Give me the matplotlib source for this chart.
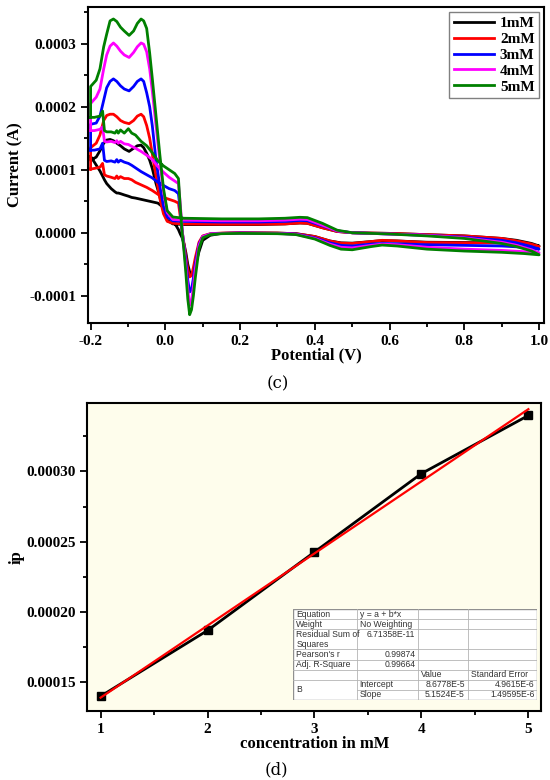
import numpy as np
import matplotlib
matplotlib.use('Agg')
import matplotlib.pyplot as plt
from matplotlib.ticker import MultipleLocator, FuncFormatter
from matplotlib.patches import Rectangle

plt.rcParams['font.family'] = ['Liberation Serif', 'DejaVu Serif']
plt.rcParams['font.weight'] = 'bold'

labels = ['1mM', '2mM', '3mM', '4mM', '5mM']
colors = ['black', '#ff0000', '#0000ff', '#ff00ff', '#008000']

# ---- (c) cyclic voltammograms, currents in units of 1e-4 A ----
# forward part, -0.2 V up to the shoulder
v_low = [-0.2, -0.19, -0.175, -0.168, -0.163, -0.157, -0.145, -0.135, -0.13, -0.126,
         -0.12, -0.11, -0.099, -0.09, -0.08, -0.065, -0.05, -0.035, -0.02, -0.005,
         0.01, 0.025, 0.035]
i_low = [
    [1.21, 1.12, 0.98, 0.90, 0.84, 0.78, 0.70, 0.65, 0.63, 0.63, 0.62, 0.60, 0.58, 0.56, 0.55, 0.53, 0.51, 0.49, 0.47, 0.40, 0.30, 0.15, 0.05],
    [1.01, 1.02, 1.04, 1.10, 0.92, 0.90, 0.88, 0.86, 0.90, 0.86, 0.89, 0.86, 0.86, 0.84, 0.80, 0.76, 0.72, 0.67, 0.61, 0.56, 0.53, 0.50, 0.47],
    [1.31, 1.31, 1.33, 1.42, 1.15, 1.13, 1.14, 1.12, 1.16, 1.12, 1.15, 1.12, 1.10, 1.07, 1.03, 0.97, 0.92, 0.87, 0.80, 0.75, 0.70, 0.67, 0.62],
    [1.62, 1.62, 1.64, 1.68, 1.45, 1.44, 1.45, 1.43, 1.46, 1.42, 1.45, 1.41, 1.40, 1.37, 1.34, 1.29, 1.23, 1.16, 1.05, 0.96, 0.88, 0.82, 0.78],
    [1.83, 1.83, 1.85, 1.93, 1.62, 1.60, 1.60, 1.58, 1.62, 1.58, 1.63, 1.58, 1.65, 1.58, 1.55, 1.45, 1.38, 1.27, 1.14, 1.06, 1.00, 0.94, 0.86],
]
# cathodic peak region
v_cath = [0.04, 0.045, 0.05, 0.055, 0.06, 0.065, 0.07, 0.075, 0.08, 0.09, 0.1, 0.12, 0.15, 0.2]
i_cath = [
    [-0.02, -0.08, -0.18, -0.32, -0.50, -0.62, -0.67, -0.62, -0.52, -0.30, -0.12, -0.04, -0.01, 0.0],
    [0.25, 0.02, -0.18, -0.38, -0.58, -0.70, -0.68, -0.55, -0.40, -0.15, -0.05, -0.015, -0.005, 0.0],
    [0.35, 0.03, -0.22, -0.45, -0.75, -0.94, -0.90, -0.72, -0.50, -0.18, -0.06, -0.02, -0.01, -0.005],
    [0.45, 0.05, -0.25, -0.55, -0.90, -1.15, -1.08, -0.85, -0.58, -0.20, -0.06, -0.02, -0.01, -0.005],
    [0.40, 0.0, -0.30, -0.65, -1.05, -1.30, -1.22, -1.00, -0.72, -0.25, -0.08, -0.03, -0.015, -0.01],
]
# lower branch on the right side
v_rlow = [0.3, 0.35, 0.4, 0.44, 0.47, 0.5, 0.55, 0.58, 0.62, 0.7, 0.8, 0.9, 0.96, 1.0]
i_rlow = [
    [-0.005, -0.015, -0.06, -0.13, -0.16, -0.165, -0.14, -0.125, -0.13, -0.15, -0.155, -0.16, -0.18, -0.21],
    [-0.005, -0.015, -0.06, -0.13, -0.165, -0.17, -0.14, -0.12, -0.13, -0.155, -0.16, -0.16, -0.18, -0.22],
    [-0.01, -0.02, -0.08, -0.16, -0.20, -0.21, -0.18, -0.17, -0.175, -0.19, -0.20, -0.21, -0.23, -0.26],
    [-0.01, -0.025, -0.09, -0.18, -0.23, -0.24, -0.20, -0.18, -0.19, -0.23, -0.26, -0.28, -0.30, -0.32],
    [-0.015, -0.03, -0.10, -0.20, -0.26, -0.27, -0.22, -0.195, -0.21, -0.26, -0.29, -0.31, -0.33, -0.35],
]
# reverse scan, upper branch on the right side
v_rup = [0.98, 0.94, 0.9, 0.8, 0.7, 0.6, 0.5, 0.46, 0.42, 0.38, 0.36, 0.32, 0.25, 0.15, 0.05]
i_rup = [
    [-0.17, -0.12, -0.09, -0.05, -0.03, -0.01, 0.0, 0.02, 0.08, 0.15, 0.155, 0.14, 0.13, 0.13, 0.13],
    [-0.18, -0.13, -0.09, -0.05, -0.03, -0.01, 0.0, 0.02, 0.08, 0.15, 0.155, 0.14, 0.135, 0.135, 0.14],
    [-0.22, -0.16, -0.12, -0.07, -0.04, -0.02, 0.0, 0.03, 0.11, 0.19, 0.195, 0.18, 0.17, 0.17, 0.18],
    [-0.27, -0.20, -0.15, -0.08, -0.04, -0.02, 0.0, 0.03, 0.12, 0.21, 0.215, 0.20, 0.19, 0.19, 0.20],
    [-0.29, -0.22, -0.17, -0.09, -0.05, -0.02, 0.0, 0.04, 0.15, 0.24, 0.245, 0.23, 0.22, 0.22, 0.23],
]
# anodic double peak, back to -0.2 V
v_peak = [0.02, 0.005, -0.005, -0.015, -0.025, -0.035, -0.042, -0.05, -0.058, -0.065,
          -0.075, -0.085, -0.097, -0.11, -0.12, -0.13, -0.139, -0.148, -0.157, -0.165,
          -0.175, -0.185, -0.2]
i_peak = [
    [0.14, 0.20, 0.35, 0.58, 0.78, 1.02, 1.15, 1.26, 1.35, 1.39, 1.38, 1.34, 1.29, 1.33, 1.38, 1.42, 1.46, 1.48, 1.47, 1.42, 1.30, 1.20, 1.15],
    [0.15, 0.18, 0.30, 0.55, 0.90, 1.25, 1.50, 1.70, 1.84, 1.88, 1.85, 1.78, 1.73, 1.75, 1.78, 1.84, 1.88, 1.88, 1.86, 1.78, 1.55, 1.42, 1.35],
    [0.19, 0.25, 0.42, 0.75, 1.15, 1.70, 2.00, 2.22, 2.40, 2.44, 2.40, 2.32, 2.25, 2.28, 2.33, 2.40, 2.44, 2.40, 2.30, 2.10, 1.85, 1.74, 1.72],
    [0.21, 0.32, 0.65, 1.15, 1.70, 2.25, 2.60, 2.87, 2.99, 3.01, 2.95, 2.86, 2.78, 2.82, 2.88, 2.96, 3.01, 2.96, 2.82, 2.60, 2.28, 2.15, 2.05],
    [0.25, 0.35, 0.70, 1.25, 1.85, 2.45, 2.85, 3.24, 3.36, 3.39, 3.32, 3.20, 3.13, 3.20, 3.26, 3.35, 3.39, 3.36, 3.15, 2.95, 2.60, 2.42, 2.32],
]

# ---- (d) calibration ----
conc = [1, 2, 3, 4, 5]
ip = [0.0001395, 0.0001865, 0.0002425, 0.0002985, 0.000340]
fit_x = [1, 5]
fit_y = [0.0001385, 0.0003445]

table_rows = [
    ("Equation", "y = a + b*x", "", ""),
    ("Weight", "No Weighting", "", ""),
    ("Residual Sum of\nSquares", "6.71358E-11", "", ""),
    ("Pearson's r", "0.99874", "", ""),
    ("Adj. R-Square", "0.99664", "", ""),
    ("", "", "Value", "Standard Error"),
    ("B", "Intercept", "8.6778E-5", "4.9615E-6"),
    ("", "Slope", "5.1524E-5", "1.49595E-6"),
]


def style_axes(ax):
    for s in ax.spines.values():
        s.set_linewidth(1.5)
    ax.tick_params(which='both', direction='out', top=False, right=False, width=1.3,
                   labelsize=11)
    ax.tick_params(which='major', length=5)
    ax.tick_params(which='minor', length=3)
    for t in ax.get_xticklabels() + ax.get_yticklabels():
        t.set_fontweight('bold')


fig = plt.figure(figsize=(5.5, 7.8), dpi=100)

# ---------------- (c) ----------------
ax1 = fig.add_axes([0.16, 0.586, 0.829, 0.405])
scale = 1e-4
for k in range(5):
    v = np.concatenate([v_low, v_cath, v_rlow, v_rup, v_peak, v_low[:1]])
    i = np.concatenate([i_low[k], i_cath[k], i_rlow[k], i_rup[k], i_peak[k], i_low[k][:1]]) * scale
    ax1.plot(v, i, color=colors[k], lw=2, label=labels[k], solid_joinstyle='round')

ax1.set_xlim(-0.207, 1.013)
ax1.set_ylim(-0.000143, 0.000358)
ax1.xaxis.set_major_locator(MultipleLocator(0.2))
ax1.xaxis.set_minor_locator(MultipleLocator(0.1))
ax1.yaxis.set_major_locator(MultipleLocator(0.0001))
ax1.yaxis.set_minor_locator(MultipleLocator(0.00005))
ax1.xaxis.set_major_formatter(FuncFormatter(lambda x, p: '%.1f' % (0.0 if abs(x) < 1e-9 else x)))
ax1.yaxis.set_major_formatter(FuncFormatter(lambda y, p: '%.4f' % (0.0 if abs(y) < 1e-12 else y)))
style_axes(ax1)
ax1.set_xlabel('Potential (V)', fontsize=12, fontweight='bold', labelpad=0)
ax1.set_ylabel('Current (A)', fontsize=12, fontweight='bold', labelpad=4)
leg = ax1.legend(loc='upper right', prop={'weight': 'bold', 'size': 11}, fancybox=False,
                 edgecolor='#808080', framealpha=1, handlelength=2.6, labelspacing=0.15,
                 borderaxespad=0.3, handletextpad=0.4, borderpad=0.3)
leg.get_frame().set_linewidth(1.0)

fig.text(0.505, 1 - 384 / 780, '(c)', ha='center', va='center', fontsize=12,
         family='DejaVu Serif', fontweight='normal')

# ---------------- (d) ----------------
ax2 = fig.add_axes([0.159, 0.0885, 0.825, 0.395])
ax2.set_facecolor('#fefdec')
ax2.plot(conc, ip, color='black', lw=2, marker='s', ms=6, zorder=3)
ax2.plot(fit_x, fit_y, color='#ff0000', lw=1.6, zorder=4)
ax2.set_xlim(0.877, 5.12)
ax2.set_ylim(0.000129, 0.000349)
ax2.xaxis.set_major_locator(MultipleLocator(1))
ax2.xaxis.set_minor_locator(MultipleLocator(0.5))
ax2.yaxis.set_major_locator(MultipleLocator(0.00005))
ax2.yaxis.set_minor_locator(MultipleLocator(0.000025))
ax2.xaxis.set_major_formatter(FuncFormatter(lambda x, p: '%d' % round(x)))
ax2.yaxis.set_major_formatter(FuncFormatter(lambda y, p: '%.5f' % y))
style_axes(ax2)
ax2.set_xlabel('concentration in mM', fontsize=12, fontweight='bold', labelpad=0)
ax2.set_ylabel('ip', fontsize=12, fontweight='bold', labelpad=1)

fig.text(0.503, 1 - 770 / 780, '(d)', ha='center', va='center', fontsize=12,
         family='DejaVu Serif', fontweight='normal')

# fit report table
tab = fig.add_axes([293.3 / 550, 1 - 700 / 780, 244 / 550, 91 / 780])
tab.set_xlim(0, 244)
tab.set_ylim(9, 0)
tab.axis('off')
col_edges = [0, 63.4, 125, 174.4, 244]
row_top = [0, 1, 2, 4, 5, 6, 7, 8]
row_bot = [1, 2, 4, 5, 6, 7, 8, 9]
tab.add_patch(Rectangle((0, 0), 244, 9, facecolor='white', edgecolor='#909090', lw=1.0))
grid = '#b4b4b4'
for y in [1, 2, 4, 5, 6, 7]:
    tab.plot([0, 244], [y, y], color=grid, lw=0.6)
tab.plot([col_edges[1], 244], [8, 8], color=grid, lw=0.6)
for x in col_edges[1:-1]:
    tab.plot([x, x], [0, 9], color=grid, lw=0.6)

txt = dict(family='Liberation Sans', fontsize=6.2, color='#333333', fontweight='normal')
for r, row in enumerate(table_rows):
    for c, s in enumerate(row):
        if not s:
            continue
        y = (row_top[r] + row_bot[r]) / 2
        if r == 2:
            y = row_top[r] + 0.5
        if c == 0 and s == 'B':
            y = 8.0
        right = c > 0 and s[0].isdigit()
        if right:
            tab.text(col_edges[c + 1] - 3, y, s, ha='right', va='center', **txt)
        else:
            va = 'top' if '\n' in s else 'center'
            yy = row_top[r] + 0.1 if '\n' in s else y
            tab.text(col_edges[c] + 3, yy, s, ha='left', va=va, linespacing=1.15, **txt)

fig.savefig('out.png', dpi=100)
